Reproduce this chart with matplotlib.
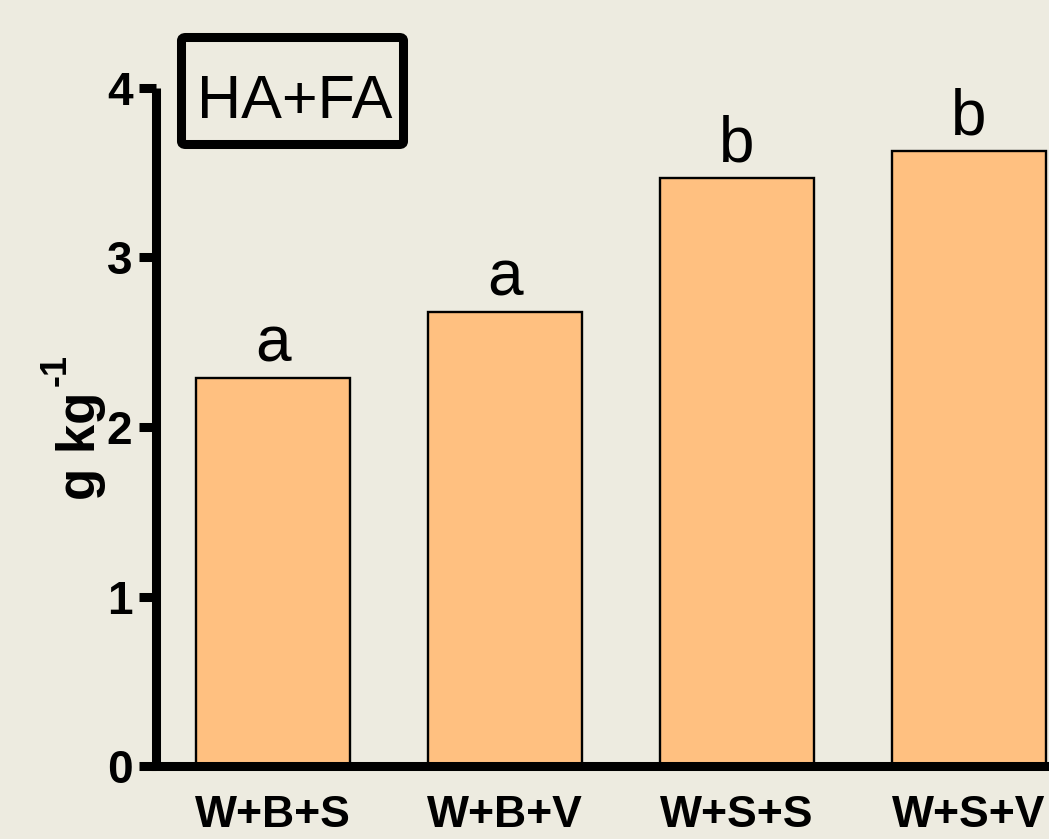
import matplotlib.pyplot as plt
from matplotlib.patches import FancyBboxPatch

# treatments and their HA+FA content (g/kg)
treatments = ["W+B+S", "W+B+V", "W+S+S", "W+S+V"]
ha_fa = [2.29, 2.68, 3.47, 3.63]
groups = ["a", "a", "b", "b"]

bg = "#EDEBE0"
bar_color = "#FFC080"

plt.rcParams["font.family"] = ["Liberation Sans", "DejaVu Sans"]

fig = plt.figure(figsize=(10.49, 8.39), dpi=100, facecolor=bg)
ax = fig.add_axes([156 / 1049, 73 / 839, 1 - 156 / 1049, 678 / 839])
ax.set_facecolor(bg)

x = list(range(len(treatments)))
ax.bar(x, ha_fa, width=0.664, color=bar_color, edgecolor="black", linewidth=1.7, zorder=2)

# significance letters above each bar
for xi, val, g in zip(x, ha_fa, groups):
    ax.annotate(g, (xi, val), xytext=(0, 12), textcoords="offset points",
                ha="center", va="baseline", fontsize=46)

ax.set_xlim(-0.505, 3.347)
ax.set_ylim(0, 4)
ax.set_yticks([0, 1, 2, 3, 4])
ax.set_xticks(x)
ax.set_xticklabels(treatments, fontsize=32, fontweight="bold")
for lbl in ax.get_yticklabels():
    lbl.set_fontsize(33)
    lbl.set_fontweight("bold")

ax.spines["top"].set_visible(False)
ax.spines["right"].set_visible(False)
for s in ("left", "bottom"):
    ax.spines[s].set_linewidth(6.5)
    ax.spines[s].set_zorder(3)
ax.spines["left"].set_capstyle("butt")

ax.tick_params(axis="y", length=12, width=6.5, pad=5, direction="out")
ax.tick_params(axis="x", length=0, pad=21)

# y axis unit, with the exponent as a separate raised text
fig.text(95 / 1049, 1 - 500 / 839, "g kg", rotation=90, rotation_mode="anchor",
         ha="left", va="baseline", fontsize=38, fontweight="bold")
fig.text(66 / 1049, 1 - 386 / 839, "-1", rotation=90, rotation_mode="anchor",
         ha="left", va="baseline", fontsize=26, fontweight="bold")

# boxed panel title
box = FancyBboxPatch((181.5 / 1049, 1 - 144.5 / 839), 222 / 1049, 107 / 839,
                     boxstyle="round,pad=0,rounding_size=0.004",
                     transform=fig.transFigure, facecolor="none", edgecolor="black",
                     linewidth=6.5, zorder=5)
fig.patches.append(box)
fig.text(295 / 1049, 1 - 118 / 839, "HA+FA", ha="center", va="baseline", fontsize=44)

fig.savefig("out.png", dpi=100, facecolor=bg)
